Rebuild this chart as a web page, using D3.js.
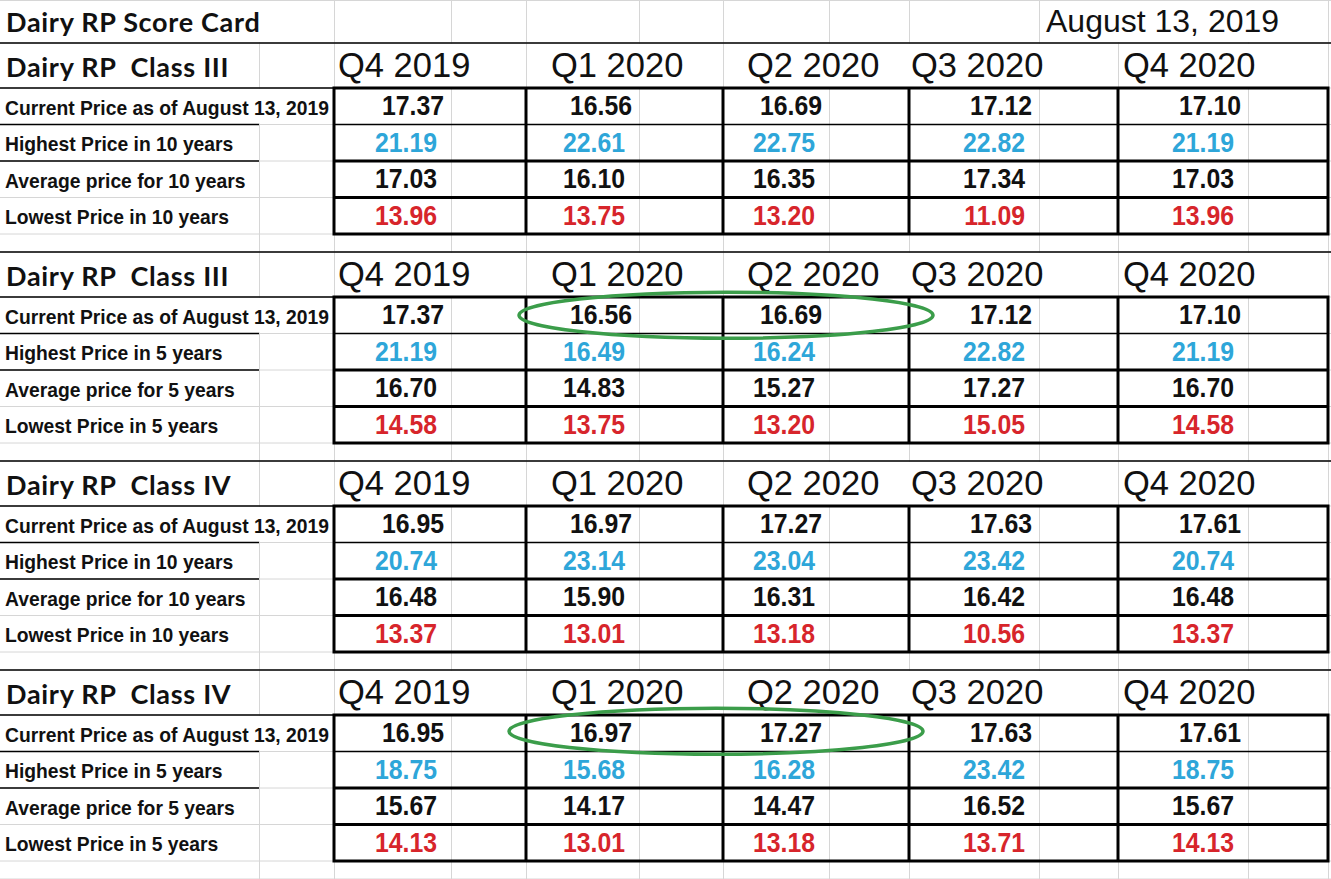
<!DOCTYPE html>
<html>
<head>
<meta charset="utf-8">
<script src="https://cdn.jsdelivr.net/npm/d3@7"></script>
<style>
  html, body { margin: 0; padding: 0; background: #fff; }
  svg { display: block; }
  text { white-space: pre; }
</style>
</head>
<body>
<div id="sheet"></div>
<script>
const quarters = ["Q4 2019", "Q1 2020", "Q2 2020", "Q3 2020", "Q4 2020"]
const blockTitles = ["Dairy RP  Class III", "Dairy RP  Class III", "Dairy RP  Class IV", "Dairy RP  Class IV"]
const rowLabels10 = ["Current Price as of August 13, 2019", "Highest Price in 10 years", "Average price for 10 years", "Lowest Price in 10 years"]
const rowLabels5 = ["Current Price as of August 13, 2019", "Highest Price in 5 years", "Average price for 5 years", "Lowest Price in 5 years"]

const class3Current = [17.37, 16.56, 16.69, 17.12, 17.10]
const class3High10 = [21.19, 22.61, 22.75, 22.82, 21.19]
const class3Avg10 = [17.03, 16.10, 16.35, 17.34, 17.03]
const class3Low10 = [13.96, 13.75, 13.20, 11.09, 13.96]
const class3High5 = [21.19, 16.49, 16.24, 22.82, 21.19]
const class3Avg5 = [16.70, 14.83, 15.27, 17.27, 16.70]
const class3Low5 = [14.58, 13.75, 13.20, 15.05, 14.58]

const class4Current = [16.95, 16.97, 17.27, 17.63, 17.61]
const class4High10 = [20.74, 23.14, 23.04, 23.42, 20.74]
const class4Avg10 = [16.48, 15.90, 16.31, 16.42, 16.48]
const class4Low10 = [13.37, 13.01, 13.18, 10.56, 13.37]
const class4High5 = [18.75, 15.68, 16.28, 23.42, 18.75]
const class4Avg5 = [15.67, 14.17, 14.47, 16.52, 15.67]
const class4Low5 = [14.13, 13.01, 13.18, 13.71, 14.13]

const blocks = [
  { title: blockTitles[0], labels: rowLabels10, rows: [class3Current, class3High10, class3Avg10, class3Low10] },
  { title: blockTitles[1], labels: rowLabels5, rows: [class3Current, class3High5, class3Avg5, class3Low5], circled: true },
  { title: blockTitles[2], labels: rowLabels10, rows: [class4Current, class4High10, class4Avg10, class4Low10] },
  { title: blockTitles[3], labels: rowLabels5, rows: [class4Current, class4High5, class4Avg5, class4Low5], circled: true }
]
const rowKinds = ["current", "high", "avg", "low"]

// ---- sheet layout (excel-like grid) ----
const W = 1331, H = 879
const colEdges = [0, 259, 334, 451, 526, 639, 723, 829, 909, 1039, 1118, 1248, 1328, W]
const titleH = 43, headH = 45, dataH = 146, gapH = 18
const blockH = headH + dataH + gapH
const headerPad = [4, 25, 24, 2, 5]   // where the quarter captions sit in their cells
const rowColor = { current: "#111", high: "#2ea6d9", avg: "#111", low: "#d7252b" }
const rowPad = { current: 7, high: 14, avg: 14, low: 14 }
const calibriLike = "Lato, 'Open Sans', sans-serif"
const arialLike = "'Liberation Sans', Arial, sans-serif"

const boxLeft = d3.scaleOrdinal().domain(quarters).range([334, 526, 723, 909, 1118])
const boxRight = d3.scaleOrdinal().domain(quarters).range([526, 723, 909, 1118, 1328])
const cellRight = d3.scaleOrdinal().domain(quarters).range([451, 639, 829, 1039, 1248])
const blockY = d3.scaleLinear().domain([0, 1]).range([titleH, titleH + blockH])
const rowY = d3.scaleBand().domain(rowKinds).range([headH, headH + dataH])

const svg = d3.select("#sheet").append("svg")
    .attr("width", W)
    .attr("height", H)

svg.append("rect").attr("width", W).attr("height", H).attr("fill", "#fff")

const gGrid = svg.append("g").attr("stroke", "#d6d6d6").attr("stroke-width", 1)
const gMask = svg.append("g").attr("fill", "#fff")
const gText = svg.append("g")
const gBorder = svg.append("g").attr("stroke", "#000").attr("fill", "none")
const gNote = svg.append("g")

// light grid lines
let rowEdges = [0.5, titleH]
blocks.forEach((b, i) => {
  let y0 = blockY(i)
  rowEdges.push(y0 + headH)
  rowKinds.forEach(k => rowEdges.push(y0 + rowY(k) + rowY.bandwidth()))
  rowEdges.push(y0 + blockH)
})
gGrid.selectAll("line.h").data(rowEdges).enter().append("line")
    .attr("class", "h")
    .attr("x1", 0).attr("x2", W)
    .attr("y1", d => d).attr("y2", d => d)
gGrid.selectAll("line.v").data(colEdges.slice(1, -1)).enter().append("line")
    .attr("class", "v")
    .attr("x1", d => d + 0.5).attr("x2", d => d + 0.5)
    .attr("y1", 0).attr("y2", H)

// text that runs over its cell hides the grid below it
function spill(sel, top, bottom) {
  sel.each(function() {
    let bb = this.getBBox()
    gMask.append("rect")
        .attr("x", bb.x - 2).attr("width", bb.width + 4)
        .attr("y", top + 1).attr("height", bottom - top - 2)
  })
}

// title row
let title = gText.append("text")
    .attr("x", 6).attr("y", 32)
    .attr("font-family", calibriLike)
    .attr("font-weight", 700).attr("font-size", 27)
    .attr("letter-spacing", 0.7)
    .attr("fill", "#111")
    .text("Dairy RP Score Card")
spill(title, 0, titleH)

let dateText = gText.append("text")
    .attr("x", 1046).attr("y", 32)
    .attr("font-family", arialLike)
    .attr("font-size", 32)
    .attr("fill", "#111")
    .text("August 13, 2019")
spill(dateText, 0, titleH)

blocks.forEach((b, i) => {
  let y0 = blockY(i)
  let g = gText.append("g").attr("transform", "translate(0," + y0 + ")")

  // block caption
  g.append("text")
      .attr("x", 6).attr("y", 34)
      .attr("font-family", calibriLike)
      .attr("font-weight", 700).attr("font-size", 27)
      .attr("letter-spacing", 0.7)
      .attr("fill", "#111")
      .text(b.title)

  // quarter captions
  let qs = g.selectAll("text.q").data(quarters).enter().append("text")
      .attr("class", "q")
      .attr("x", (d, j) => boxLeft(d) + headerPad[j])
      .attr("y", 34)
      .attr("font-family", arialLike)
      .attr("font-size", 34.5)
      .attr("fill", "#111")
      .text(d => d)
  spill(qs, y0, y0 + headH)

  // row labels
  rowKinds.forEach((k, r) => {
    let ty = rowY(k)
    let lab = g.append("text")
        .attr("x", 5).attr("y", ty + 26.5)
        .attr("font-family", arialLike)
        .attr("font-weight", 700).attr("font-size", 19.3)
        .attr("fill", "#111")
        .text(b.labels[r])
    let bb = lab.node().getBBox()
    if (bb.x + bb.width > colEdges[1]) spill(lab, y0 + ty, y0 + ty + rowY.bandwidth())

    // values
    g.selectAll("text.v" + r).data(b.rows[r]).enter().append("text")
        .attr("class", "v" + r)
        .attr("transform", (d, j) => "translate(" + (cellRight(quarters[j]) - rowPad[k]) + "," + (ty + 27) + ") scale(0.87,1)")
        .attr("text-anchor", "end")
        .attr("font-family", arialLike)
        .attr("font-weight", 700).attr("font-size", 28.5)
        .attr("fill", rowColor[k])
        .text(d => d3.format(".2f")(d))
  })

  // black borders
  let gb = gBorder.append("g").attr("transform", "translate(0," + y0 + ")")
  gb.append("line").attr("x1", 0).attr("x2", W).attr("y1", 0).attr("y2", 0).attr("stroke-width", 1.4)
  gb.append("line").attr("x1", 0).attr("x2", 334).attr("y1", headH).attr("y2", headH).attr("stroke-width", 1.4)
  ;["current", "high"].forEach(k => {
    let yy = rowY(k) + rowY.bandwidth()
    gb.append("line").attr("x1", 0).attr("x2", colEdges[1]).attr("y1", yy).attr("y2", yy).attr("stroke-width", 1.4)
  })
  rowKinds.slice(0, 3).forEach(k => {
    let yy = rowY(k) + rowY.bandwidth()
    gb.append("line")
        .attr("x1", boxLeft(quarters[0])).attr("x2", boxRight(quarters[4]))
        .attr("y1", yy).attr("y2", yy)
        .attr("stroke-width", k === "current" ? 1.6 : 3)
  })
  gb.selectAll("line.col").data(quarters.slice(1)).enter().append("line")
      .attr("class", "col")
      .attr("x1", d => boxLeft(d)).attr("x2", d => boxLeft(d))
      .attr("y1", headH).attr("y2", headH + dataH)
      .attr("stroke-width", 3)
  gb.append("rect")
      .attr("x", boxLeft(quarters[0])).attr("y", headH)
      .attr("width", boxRight(quarters[4]) - boxLeft(quarters[0]))
      .attr("height", dataH)
      .attr("stroke-width", 3)

  // hand-drawn green ring round Q1/Q2 current prices
  if (b.circled) {
    gNote.append("ellipse")
        .attr("cx", boxLeft(quarters[2]) + (i === 1 ? 3 : -7))
        .attr("cy", y0 + rowY("current") + rowY.bandwidth() / 2 + (i === 1 ? 0 : -2))
        .attr("rx", 207).attr("ry", 23)
        .attr("fill", "none")
        .attr("stroke", "#3b9d4a")
        .attr("stroke-width", 3.5)
  }
})
</script>
</body>
</html>
